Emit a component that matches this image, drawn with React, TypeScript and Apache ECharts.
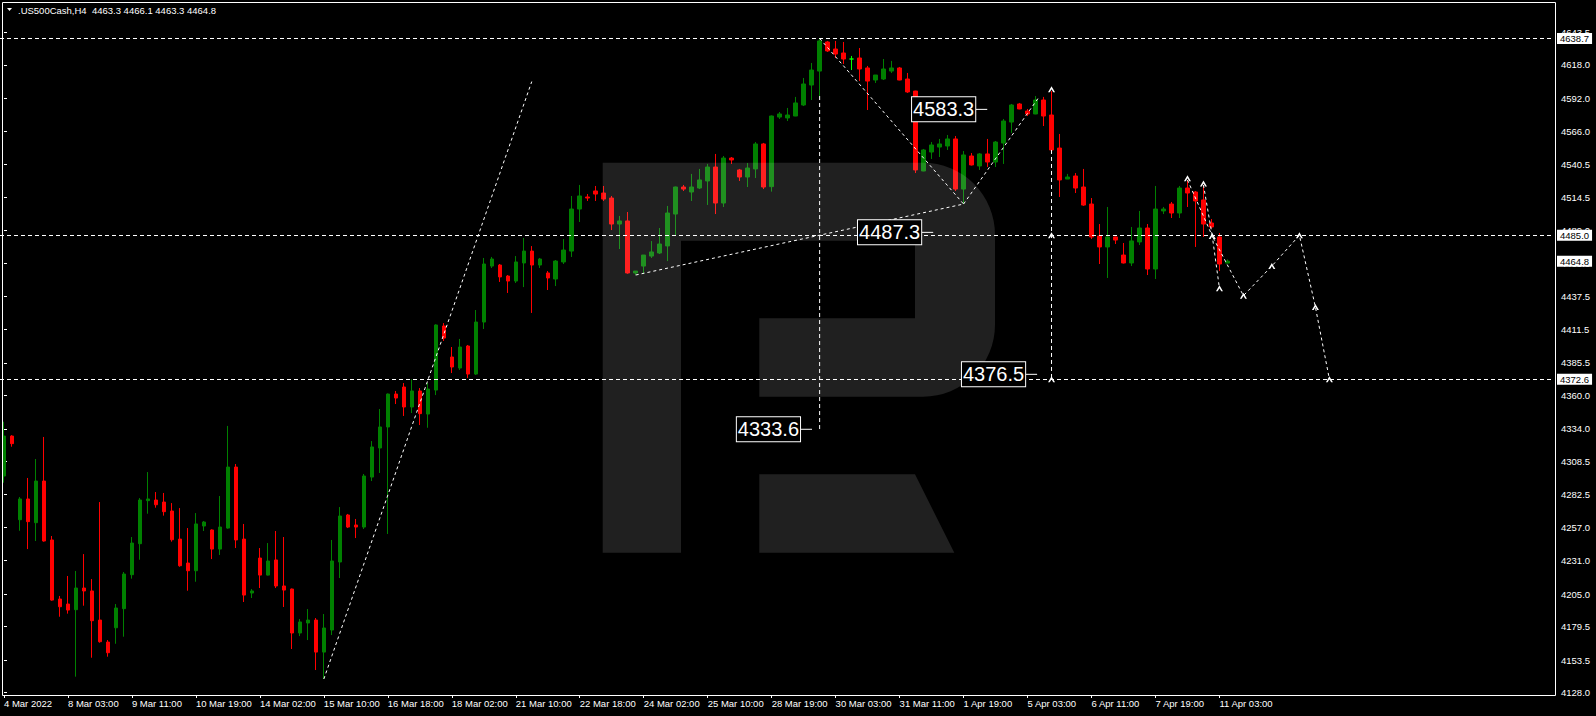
import React, { useEffect, useRef } from "react";
import * as echarts from "echarts";

// ---- Candle data (H4 bars, 4 Mar 2022 .. 11 Apr 2022) ----
const opens = [
  4297.1, 4328.3, 4263.0, 4279.2, 4260.7, 4293.2, 4247.2, 4201.1, 4197.2, 4192.8,
  4209.7, 4207.4, 4184.7, 4167.5, 4178.7, 4193.6, 4220.1, 4244.3, 4277.9, 4278.4,
  4276.8, 4269.8, 4247.9, 4229.2, 4223.2, 4258.1, 4255.0, 4240.1, 4256.5, 4304.1,
  4247.9, 4205.8, 4233.1, 4219.8, 4231.6, 4211.3, 4208.9, 4174.6, 4182.4, 4184.7,
  4159.7, 4176.9, 4230.0, 4266.7, 4258.9, 4257.3, 4296.3, 4319.0, 4335.4, 4361.1,
  4366.6, 4351.0, 4363.5, 4345.5, 4364.2, 4414.2, 4390.0, 4381.4, 4398.6, 4376.7,
  4417.3, 4461.0, 4461.8, 4453.2, 4449.3, 4463.4, 4472.7, 4461.8, 4455.6, 4450.9,
  4464.2, 4472.7, 4505.5, 4514.9, 4519.6, 4518.0, 4514.1, 4493.8, 4496.2, 4455.6,
  4461.0, 4468.8, 4471.2, 4476.7, 4501.6, 4522.7, 4518.8, 4521.9, 4527.4, 4538.3,
  4510.2, 4545.3, 4536.0, 4530.5, 4536.8, 4556.3, 4523.0, 4577.3, 4576.6, 4578.1,
  4586.7, 4602.3, 4613.2, 4635.9, 4630.4, 4627.3, 4622.6, 4623.4, 4615.6, 4606.2,
  4607.0, 4613.2, 4615.6, 4607.0, 4597.6, 4535.2, 4550.0, 4553.9, 4554.7, 4560.2,
  4521.1, 4546.9, 4539.1, 4548.5, 4542.2, 4557.0, 4573.4, 4587.5, 4582.0, 4579.7,
  4590.6, 4578.9, 4553.1, 4528.9, 4531.3, 4522.7, 4509.4, 4484.5, 4475.9, 4483.7,
  4469.6, 4463.4, 4479.8, 4490.7, 4458.7, 4504.0, 4509.4, 4502.4, 4521.9, 4518.8,
  4512.6, 4494.6, 4483.7, 4463.3,
];
const highs = [
  4339.5, 4329.0, 4280.7, 4295.6, 4310.4, 4327.6, 4250.3, 4203.5, 4219.1, 4223.0,
  4236.2, 4216.7, 4276.8, 4169.1, 4197.2, 4222.2, 4249.5, 4279.9, 4300.2, 4284.6,
  4283.9, 4276.0, 4272.1, 4256.5, 4268.2, 4262.0, 4255.5, 4281.5, 4336.2, 4306.5,
  4259.7, 4208.9, 4240.9, 4244.8, 4254.2, 4249.5, 4209.3, 4185.5, 4193.3, 4186.3,
  4189.4, 4247.2, 4272.9, 4267.5, 4263.6, 4298.7, 4324.4, 4349.4, 4361.5, 4363.5,
  4369.7, 4372.6, 4365.8, 4369.7, 4415.5, 4416.5, 4397.8, 4404.1, 4399.4, 4426.7,
  4467.3, 4468.1, 4462.6, 4454.0, 4468.8, 4482.9, 4476.6, 4467.3, 4457.1, 4465.7,
  4482.1, 4515.7, 4524.3, 4517.2, 4523.5, 4523.5, 4515.7, 4500.1, 4503.2, 4457.1,
  4469.6, 4480.5, 4490.7, 4507.9, 4523.0, 4524.3, 4532.9, 4536.8, 4540.7, 4548.5,
  4546.9, 4546.1, 4536.8, 4541.4, 4557.8, 4557.1, 4578.5, 4581.2, 4584.4, 4593.0,
  4607.8, 4619.5, 4638.7, 4636.7, 4636.7, 4635.9, 4625.0, 4631.2, 4617.2, 4610.1,
  4622.6, 4621.1, 4616.4, 4611.7, 4597.8, 4552.4, 4557.8, 4560.2, 4563.3, 4562.5,
  4550.8, 4549.2, 4549.2, 4560.2, 4558.6, 4575.8, 4587.5, 4588.3, 4583.6, 4593.7,
  4593.0, 4597.6, 4564.1, 4532.9, 4533.6, 4536.8, 4514.1, 4493.8, 4507.1, 4484.0,
  4479.0, 4491.5, 4504.0, 4493.8, 4523.5, 4507.1, 4511.0, 4523.5, 4528.2, 4519.6,
  4524.3, 4497.7, 4486.8, 4466.1,
];
const lows = [
  4291.9, 4320.0, 4254.4, 4240.1, 4246.4, 4245.9, 4199.8, 4187.3, 4189.7, 4140.5,
  4195.9, 4155.3, 4167.0, 4156.1, 4166.2, 4171.7, 4217.0, 4231.8, 4267.7, 4272.4,
  4266.2, 4245.9, 4226.3, 4207.6, 4214.6, 4254.2, 4232.3, 4235.5, 4256.0, 4240.9,
  4198.8, 4201.9, 4209.7, 4219.5, 4209.7, 4194.9, 4162.1, 4172.2, 4169.1, 4145.7,
  4138.7, 4173.0, 4217.5, 4256.5, 4248.7, 4255.8, 4293.2, 4299.5, 4251.9, 4353.3,
  4344.0, 4346.3, 4336.9, 4334.8, 4360.3, 4402.5, 4377.5, 4379.9, 4373.6, 4376.0,
  4411.9, 4459.5, 4448.6, 4440.0, 4447.8, 4444.6, 4424.4, 4459.5, 4442.3, 4445.4,
  4462.6, 4468.1, 4495.4, 4511.8, 4511.8, 4511.8, 4489.1, 4474.3, 4455.0, 4454.0,
  4454.8, 4467.3, 4470.4, 4464.9, 4485.2, 4519.6, 4511.8, 4521.1, 4508.7, 4501.6,
  4507.1, 4540.7, 4527.4, 4522.7, 4529.7, 4521.1, 4519.1, 4575.8, 4574.2, 4578.0,
  4585.9, 4590.6, 4593.7, 4628.1, 4623.4, 4618.7, 4614.0, 4605.4, 4582.8, 4603.9,
  4606.2, 4611.7, 4606.0, 4596.1, 4533.6, 4535.0, 4544.6, 4546.1, 4551.6, 4519.6,
  4509.4, 4539.5, 4536.0, 4538.3, 4538.3, 4540.7, 4564.9, 4583.4, 4578.1, 4579.5,
  4570.3, 4550.3, 4514.9, 4528.9, 4518.0, 4507.9, 4482.1, 4462.6, 4451.7, 4478.2,
  4463.0, 4461.0, 4477.4, 4454.0, 4450.9, 4501.6, 4498.5, 4498.5, 4507.1, 4475.9,
  4483.7, 4490.4, 4457.1, 4463.3,
];
const closes = [
  4328.3, 4322.4, 4279.2, 4261.5, 4293.2, 4246.4, 4200.3, 4195.1, 4192.5, 4209.7,
  4207.4, 4184.2, 4167.8, 4159.2, 4194.1, 4220.6, 4244.8, 4278.4, 4279.2, 4274.7,
  4269.3, 4247.4, 4227.1, 4223.2, 4259.7, 4261.2, 4240.1, 4257.3, 4304.1, 4247.2,
  4204.2, 4207.4, 4219.8, 4230.8, 4211.3, 4208.1, 4174.6, 4183.2, 4184.7, 4159.7,
  4178.5, 4230.8, 4265.9, 4257.3, 4257.3, 4297.1, 4319.8, 4335.4, 4361.1, 4358.0,
  4351.0, 4363.5, 4345.8, 4365.0, 4415.0, 4404.8, 4382.2, 4397.8, 4376.7, 4417.3,
  4462.6, 4466.5, 4452.5, 4449.3, 4464.2, 4472.7, 4461.8, 4466.5, 4451.7, 4464.9,
  4473.5, 4505.5, 4515.7, 4514.1, 4517.2, 4513.3, 4493.8, 4496.2, 4455.6, 4457.1,
  4469.6, 4472.0, 4478.2, 4502.4, 4522.7, 4521.1, 4522.7, 4528.2, 4538.3, 4510.2,
  4545.3, 4543.8, 4530.5, 4537.5, 4556.3, 4522.7, 4578.1, 4579.7, 4578.9, 4588.3,
  4603.1, 4614.0, 4636.7, 4628.9, 4626.5, 4622.6, 4622.6, 4614.8, 4605.4, 4610.1,
  4614.8, 4615.6, 4606.2, 4596.9, 4536.0, 4551.6, 4555.5, 4556.3, 4560.2, 4521.1,
  4547.7, 4539.9, 4548.5, 4542.2, 4557.8, 4574.2, 4586.7, 4583.6, 4579.7, 4590.6,
  4578.1, 4551.6, 4528.2, 4530.5, 4521.9, 4508.6, 4483.7, 4475.9, 4483.7, 4481.3,
  4463.4, 4480.6, 4490.7, 4458.7, 4505.5, 4505.5, 4502.4, 4521.9, 4518.0, 4511.8,
  4493.8, 4491.5, 4462.6, 4464.8,
];
const limeDojiBars = [106];

// ---- Axes ----
const SLOT_COUNT = 194; // bars + empty future slots
const LABEL_EVERY = 8;
const xTickLabels = [
  "4 Mar 2022", "8 Mar 03:00", "9 Mar 11:00", "10 Mar 19:00", "14 Mar 02:00",
  "15 Mar 10:00", "16 Mar 18:00", "18 Mar 02:00", "21 Mar 10:00", "22 Mar 18:00",
  "24 Mar 02:00", "25 Mar 10:00", "28 Mar 19:00", "30 Mar 03:00", "31 Mar 11:00",
  "1 Apr 19:00", "5 Apr 03:00", "6 Apr 11:00", "7 Apr 19:00", "11 Apr 03:00",
];
const yTickLabels = [
  "4643.5", "4618.0", "4592.0", "4566.0", "4540.5", "4514.5", "4489.0", "4463.0",
  "4437.5", "4411.5", "4385.5", "4360.0", "4334.0", "4308.5", "4282.5", "4257.0",
  "4231.0", "4205.0", "4179.5", "4153.5", "4128.0",
];
const priceTagLabels = ["4638.7", "4485.0", "4464.8", "4372.6"];
const Y_MIN = 4126.2;
const Y_MAX = 4667.1;

// ---- Drawings (bar index, price) ----
const levelLines = [4638.7, 4485.0, 4372.6];
const trendLines: number[][][] = [
  [[40, 4138.7], [66, 4605.0]],
  [[102, 4638.7], [120, 4509.4]],
  [[79, 4454.0], [120, 4509.4]],
  [[120, 4509.4], [129.5, 4593.5]],
];
const verticalLines: number[][][] = [
  [[102, 4593.7], [102, 4333.6]],
  [[131, 4551.6], [131, 4372.6]],
];
const forecastLines: number[][][] = [
  [[148, 4528.2], [151.1, 4484.5], [152, 4443.6]],
  [[150, 4524.3], [151.1, 4484.5], [155, 4437.9], [158.55, 4461.0], [162, 4485.0], [164, 4429.0], [165.75, 4372.6]],
];
const arrowMarks: number[][] = [
  [131, 4599.0], [131, 4485.0], [131, 4372.6], [148, 4529.5], [150, 4525.5],
  [151.1, 4484.5], [152, 4443.6], [155, 4437.9], [158.55, 4461.0], [162, 4485.0],
  [164, 4429.0], [165.75, 4372.6],
];
const priceBoxes: number[][] = [
  [122.96, 4583.3], [116.2, 4487.3], [129.2, 4376.5], [101.05, 4333.6],
];

const LOGO_D =
  "M602.7 162.7 H923 A72 72 0 0 1 995 234.7 V324.7 A72 72 0 0 1 923 396.7 H759.3 V318.3 H915 V240.7 H681 V552.7 H602.7 Z " +
  "M759.3 474.3 H915 L954.3 552.7 H759.3 Z";

const FONT = '"Liberation Sans", Arial, sans-serif';
const BOX_FONT = '"Liberation Sans", Arial, sans-serif';
const ARROW = "path://M0,6 L4,0 L8,6 L6,6 L4,3 L2,6 Z";

export default function App() {
  const ref = useRef<HTMLDivElement>(null);

  useEffect(() => {
    const el = ref.current;
    if (!el) return;
    try {
      echarts.graphic.registerShape("logo", echarts.graphic.extendPath(LOGO_D, {}));
    } catch (e) {
      /* already registered */
    }
    const chart = echarts.init(el, null, { renderer: "svg" });

    const categories = Array.from({ length: SLOT_COUNT }, (_, i) =>
      i % LABEL_EVERY === 0 && i / LABEL_EVERY < xTickLabels.length ? xTickLabels[i / LABEL_EVERY] : ""
    );
    const candleData = opens.map((o, i) => {
      const v = [o, closes[i], lows[i], highs[i]];
      if (limeDojiBars.includes(i)) {
        return {
          value: v,
          itemStyle: {
            color: "#00ff00", color0: "#00ff00", borderColor: "#00ff00",
            borderColor0: "#00ff00", borderColorDoji: "#00ff00",
          },
        };
      }
      return v;
    });
    const yTickValues = yTickLabels.map((s) => parseFloat(s));
    const tagValues = priceTagLabels.map((s) => parseFloat(s));
    const last = opens.length - 1;
    const header =
      ".US500Cash,H4  " +
      [opens[last], highs[last], lows[last], closes[last]].map((v) => v.toFixed(1)).join(" ");

    const lineSeries = (pts: number[][], dash: number[], extra: any = {}) => ({
      type: "line",
      xAxisIndex: 1,
      yAxisIndex: 0,
      data: pts,
      symbol: "none",
      silent: true,
      z: 5,
      lineStyle: { color: "#ffffff", width: 1, type: dash },
      ...extra,
    });

    const option: any = {
      animation: false,
      backgroundColor: "#000000",
      grid: { left: -0.7, top: 2, width: SLOT_COUNT * 8, height: 693, containLabel: false },
      xAxis: [
        {
          type: "category",
          data: categories,
          boundaryGap: true,
          axisLine: { show: false },
          axisTick: {
            show: true,
            alignWithLabel: true,
            interval: (i: number) => categories[i] !== "",
            length: 3,
            lineStyle: { color: "#ffffff" },
          },
          axisLabel: {
            interval: (i: number) => categories[i] !== "",
            align: "left",
            color: "#ffffff",
            fontSize: 9.5,
            fontFamily: FONT,
            margin: 3,
          },
          splitLine: { show: false },
        },
        { type: "value", min: -0.5, max: SLOT_COUNT - 0.5, show: false },
      ],
      yAxis: [
        {
          type: "value",
          position: "right",
          min: Y_MIN,
          max: Y_MAX,
          offset: 3.7,
          splitLine: { show: false },
          axisLine: { show: false },
          axisTick: { show: true, length: 3, lineStyle: { color: "#ffffff" }, customValues: yTickValues },
          axisLabel: {
            customValues: yTickValues,
            formatter: (v: number) => v.toFixed(1),
            color: "#ffffff",
            fontSize: 9.5,
            fontFamily: FONT,
            margin: 6,
          },
        },
        {
          type: "value",
          position: "right",
          min: Y_MIN,
          max: Y_MAX,
          offset: 3.7,
          z: 5,
          splitLine: { show: false },
          axisLine: { show: false },
          axisTick: { show: false },
          axisLabel: {
            customValues: tagValues,
            formatter: (v: number) => v.toFixed(1),
            color: "#000000",
            backgroundColor: "#ffffff",
            padding: [1, 3, 0, 3],
            fontSize: 9.5,
            fontFamily: FONT,
            margin: 2,
          },
        },
      ],
      series: [
        {
          type: "candlestick",
          xAxisIndex: 0,
          yAxisIndex: 0,
          data: candleData,
          barWidth: 4,
          silent: true,
          z: 2,
          itemStyle: {
            color: "#008000",
            color0: "#ff0000",
            borderColor: "#008000",
            borderColor0: "#ff0000",
            borderWidth: 1,
          },
        },
        ...trendLines.map((pts, i) =>
          lineSeries(pts, [3, 3], i === 0
            ? {
                markLine: {
                  silent: true,
                  symbol: "none",
                  label: { show: false },
                  lineStyle: { color: "#ffffff", width: 1, type: [4, 3] },
                  data: levelLines.map((v) => ({ yAxis: v })),
                },
              }
            : {})
        ),
        ...verticalLines.map((pts) => lineSeries(pts, [4, 3])),
        ...forecastLines.map((pts) => lineSeries(pts, [3, 3])),
        {
          type: "scatter",
          xAxisIndex: 1,
          yAxisIndex: 0,
          data: arrowMarks,
          symbol: ARROW,
          symbolSize: [7, 6],
          itemStyle: { color: "#ffffff", opacity: 1 },
          silent: true,
          z: 6,
        },
        {
          type: "scatter",
          xAxisIndex: 1,
          yAxisIndex: 0,
          data: priceBoxes,
          symbol: "rect",
          symbolSize: [12, 1],
          symbolOffset: [-6, 0],
          itemStyle: { color: "#ffffff", opacity: 1 },
          silent: true,
          z: 7,
          label: {
            show: true,
            position: "left",
            distance: 0,
            formatter: (p: any) => p.value[1].toFixed(1),
            color: "#ffffff",
            opacity: 1,
            fontSize: 20,
            lineHeight: 22,
            fontFamily: BOX_FONT,
            backgroundColor: "#000000",
            borderColor: "#ffffff",
            borderWidth: 1,
            padding: [2, 1, 0, 1],
          },
        },
      ],
      graphic: [
        {
          type: "logo",
          x: 0,
          y: 0,
          z: 3,
          silent: true,
          style: { fill: "rgba(255,255,255,0.125)" },
        },
        {
          type: "rect",
          z: 10,
          silent: true,
          shape: { x: 2.5, y: 2.5, width: 1553, height: 693 },
          style: { fill: "none", stroke: "#ffffff", lineWidth: 1 },
        },
        {
          type: "polygon",
          z: 10,
          silent: true,
          shape: { points: [[7, 8], [12, 8], [9.5, 11]] },
          style: { fill: "#ffffff" },
        },
        {
          type: "text",
          x: 18,
          y: 10,
          z: 10,
          silent: true,
          style: {
            text: header,
            fill: "#ffffff",
            fontSize: 9.5,
            fontFamily: FONT,
            verticalAlign: "middle",
          },
        },
      ],
    };

    chart.setOption(option);
    return () => chart.dispose();
  }, []);

  return (
    <div
      ref={ref}
      style={{ position: "fixed", left: 0, top: 0, width: 1596, height: 716, background: "#000" }}
    />
  );
}
